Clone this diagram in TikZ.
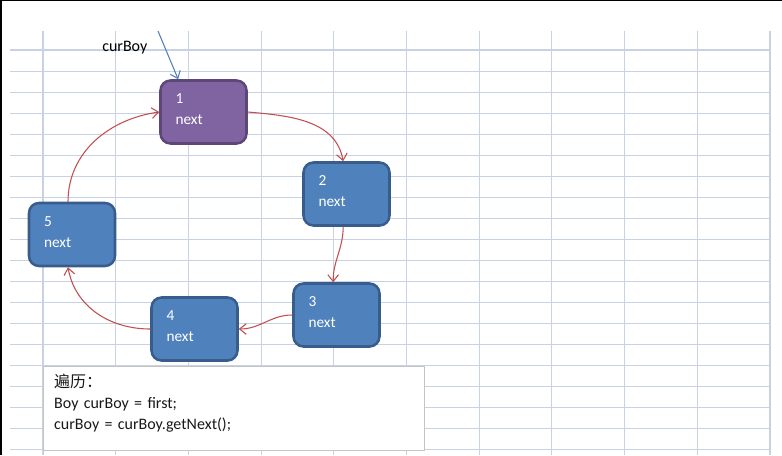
\documentclass[tikz,border=0pt]{standalone}
\usepackage{fontspec}
\setmainfont{Carlito}
\newfontfamily\cjk{Noto Sans CJK SC}
\usepackage{tikz}
\usetikzlibrary{positioning,arrows.meta}

\definecolor{boyfill}{HTML}{4F81BD}
\definecolor{boyline}{HTML}{385D8A}
\definecolor{curfill}{HTML}{8064A2}
\definecolor{curline}{HTML}{5C4776}
\definecolor{linkred}{HTML}{C0504D}
\definecolor{gridblue}{HTML}{C9D2E3}
\definecolor{boxgray}{HTML}{C4C4C4}

\begin{document}
\begin{tikzpicture}[
		x=0.75pt, y=-0.75pt
		,every node/.append style={font=\fontsize{12}{15.75}\selectfont}
		,boy/.style={rectangle, rounded corners=7.5pt, draw=boyline, fill=boyfill
			, line width=1.9pt, text=white, minimum width=64.5pt, minimum height=47.25pt
			, text width=42pt, align=left, inner xsep=11pt, inner ysep=0pt
			, text height=17.25pt, text depth=30pt, font=\fontsize{11.5}{15.75}\selectfont}
		,cur/.style={boy, draw=curline, fill=curfill}
		,link/.style={draw=linkred, line width=0.8pt, -{Straight Barb[length=5pt,width=8pt]}}
		,pointer/.style={draw=boyfill, line width=0.8pt, -{Straight Barb[length=5pt,width=8pt]}}
		,codebox/.style={rectangle, draw=boxgray, fill=white, line width=0.8pt
			, text width=270pt, align=left, inner xsep=8pt, inner ysep=0pt
			, text height=15.75pt, text depth=47.25pt, text=black!90}
	]
		\useasboundingbox (0,0) rectangle (782,455);
		% sheet grid
		\foreach \i in {0,...,19}
			\draw[gridblue, line width=0.8pt] (10,50+21.05*\i) -- (771,50+21.05*\i);
		\foreach \i in {0,...,10}
			\draw[gridblue, line width=0.8pt] (43+72.7*\i,31) -- (43+72.7*\i,455);
		\draw[line width=1.1pt] (0,0.7) -- (782,0.7);
		\draw[line width=1.6pt] (1,0) -- (1,455);

		\node [cur] (B1) at (203.5,112) {1\\next};
		\node [boy] (B2) at (346.5,194) {2\\next};
		\node [boy] (B3) at (336.5,315) {3\\next};
		\node [boy] (B4) at (194.5,329) {4\\next};
		\node [boy] (B5) at (72,234.5) {5\\next};

		\draw [link] (B1.east) to[out=-5,in=100] ([xshift=-2.5pt]B2.north);
		\draw [link] ([xshift=-2.5pt]B2.south) to[out=-90,in=90] ([xshift=-2.5pt]B3.north);
		\draw [link] (B3.west) to[out=180,in=0] (B4.east);
		\draw [link] (B4.west) to[out=180,in=-80] ([xshift=-3pt]B5.south);
		\draw [link] ([xshift=-3pt]B5.north) to[out=90,in=188] (B1.west);

		\coordinate (P) at (158,31);
		\draw [pointer] (P) -- ([xshift=-19pt]B1.north);
		\node [anchor=base west, inner sep=0pt] (curBoy) at (102,51) {curBoy};

		\node [codebox, anchor=north west] (code) at (43,366)
			{{\cjk 遍历：}\\Boy curBoy = first;\\curBoy = curBoy.getNext();};
	\end{tikzpicture}
\end{document}
